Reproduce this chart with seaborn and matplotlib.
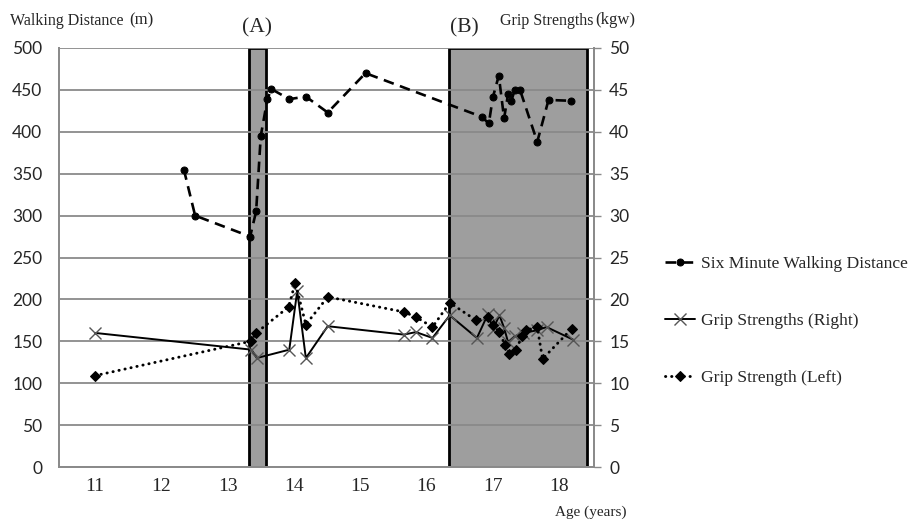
import matplotlib
matplotlib.use("Agg")
import matplotlib.pyplot as plt
import seaborn as sns
import numpy as np

# ---- data ----
walk_age = [12.34, 12.51, 13.34, 13.43, 13.50, 13.60, 13.66, 13.93, 14.18, 14.51, 15.08,
            16.83, 16.94, 17.00, 17.09, 17.17, 17.23, 17.28, 17.33, 17.41, 17.67, 17.84, 18.18]
walk_m = [355, 300, 275, 305, 395, 439, 451, 439, 442, 423, 470,
          418, 410, 441, 467, 416, 445, 437, 450, 450, 388, 438, 437]

right_age = [11.00, 13.36, 13.44, 13.93, 14.05, 14.18, 14.51, 15.66, 15.84, 16.09, 16.35,
             16.76, 16.93, 17.00, 17.10, 17.17, 17.23, 17.33, 17.46, 17.66, 17.81, 18.21]
right_kgw = [16.0, 14.0, 13.0, 14.0, 21.0, 13.0, 16.8, 15.8, 16.1, 15.4, 18.1,
             15.4, 18.3, 16.4, 18.1, 16.6, 14.9, 15.6, 16.0, 16.3, 16.7, 15.2]

left_age = [11.00, 13.35, 13.43, 13.92, 14.02, 14.18, 14.51, 15.66, 15.84, 16.09, 16.35,
            16.75, 16.93, 17.00, 17.10, 17.18, 17.25, 17.35, 17.44, 17.50, 17.67, 17.75, 18.19]
left_kgw = [10.9, 15.0, 16.0, 19.1, 22.0, 17.0, 20.3, 18.5, 17.9, 16.7, 19.6,
            17.5, 17.9, 17.0, 16.1, 14.6, 13.5, 14.0, 15.6, 16.3, 16.7, 12.9, 16.5]

periods = [("(A)", 13.32, 13.58), ("(B)", 16.34, 18.42)]
x_ticks = [11, 12, 13, 14, 15, 16, 17, 18]
left_ticks = [0, 50, 100, 150, 200, 250, 300, 350, 400, 450, 500]
right_ticks = [0, 5, 10, 15, 20, 25, 30, 35, 40, 45, 50]

labels = ["Six Minute Walking Distance", "Grip Strengths (Right)", "Grip Strength (Left)"]

# ---- style ----
sns.set_theme(style="white")
plt.rcParams['font.family'] = ['Liberation Serif', 'DejaVu Serif']
sans = 'Lato'
grid_c = '#8a8a8a'

fig = plt.figure(figsize=(9.12, 5.23), dpi=100)
W, H = 912, 523
L, R, T, B = 59, 594, 48, 467
ax = fig.add_axes([L / W, 1 - B / H, (R - L) / W, (B - T) / H])
ax2 = ax.twinx()

xmin, xmax = 10.457, 18.526
ax.set_xlim(xmin, xmax)
ax.set_ylim(0, 500)
ax2.set_ylim(0, 50)

# shaded periods
for name, a, b in periods:
    ax.axvspan(a, b, ymin=0, ymax=1, facecolor='#9e9e9e', edgecolor='black', lw=2.0, zorder=0.3)

# grid
ax.set_yticks(left_ticks)
ax.yaxis.grid(True, color=grid_c, lw=1.3, zorder=0.5)
ax.xaxis.grid(False)
ax.set_axisbelow(True)

# walking distance
sns.lineplot(x=walk_age, y=walk_m, ax=ax, color='black', lw=1.9, marker='o', markersize=5,
             markeredgecolor='black', sort=False, label=labels[0], legend=False)
ax.lines[-1].set_dashes((4, 2.5))

# grip strengths
sns.lineplot(x=right_age, y=right_kgw, ax=ax2, color='black', lw=1.4, marker='x', markersize=8.5,
             markeredgecolor='#555555', markeredgewidth=1.0, sort=False, label=labels[1], legend=False)
sns.lineplot(x=left_age, y=left_kgw, ax=ax2, color='black', lw=2.1, marker='D', markersize=5,
             markeredgecolor='black', sort=False, label=labels[2], legend=False)
ax2.lines[-1].set_linestyle((0, (0.1, 2.0)))
ax2.lines[-1].set_dash_capstyle('round')

ax2.set_xlim(xmin, xmax)
ax2.set_yticks(right_ticks)
ax2.grid(False)

# ticks
ax.set_xticks(x_ticks)
ax.set_xticklabels([str(t) for t in x_ticks], fontsize=14, family='Liberation Serif')
ax.set_xticks(np.arange(10.5, 18.6, 1.0), minor=True)
ax.tick_params(axis='x', which='major', length=0, pad=8)
ax.tick_params(axis='x', which='minor', length=4, direction='in', color=grid_c, width=1)
ax.set_yticklabels([str(t) for t in left_ticks], fontsize=12.5, family=sans)
ax.tick_params(axis='y', length=0, pad=12)
ax2.set_yticklabels([str(t) for t in right_ticks], fontsize=12.5, family=sans)
ax2.tick_params(axis='y', length=5, color=grid_c, width=1, pad=6)

for a in (ax, ax2):
    a.spines['top'].set_visible(False)
    for s in ('left', 'right', 'bottom'):
        a.spines[s].set_color(grid_c)
        a.spines[s].set_linewidth(1.3)
ax.set_xlabel('')
ax.set_ylabel('')
ax2.set_ylabel('')

# texts
fig.text(10 / W, 1 - 21 / H, 'Walking Distance', fontsize=11.5, ha='left', va='center')
fig.text(129 / W, 1 - 20 / H, '(m)', fontsize=12, ha='left', va='center')
fig.text(500 / W, 1 - 21 / H, 'Grip Strengths', fontsize=11.5, ha='left', va='center')
fig.text(595 / W, 1 - 20 / H, '(kgw)', fontsize=12, ha='left', va='center')
fig.text(257 / W, 1 - 28 / H, '(A)', fontsize=15.5, ha='center', va='center')
fig.text(450 / W, 1 - 28 / H, '(B)', fontsize=15.5, ha='left', va='center')
fig.text(555 / W, 1 - 512 / H, 'Age (years)', fontsize=11, ha='left', va='center')

# legend
handles = ax.lines[-1:] + ax2.lines[-2:]
leg = fig.legend(handles, labels, loc='center left', bbox_to_anchor=(665 / W, 1 - 321 / H),
                 frameon=False, fontsize=12.6, handlelength=1.7, handletextpad=0.35,
                 labelspacing=2.35, borderaxespad=0, borderpad=0)

fig.savefig('out.png', dpi=100)
